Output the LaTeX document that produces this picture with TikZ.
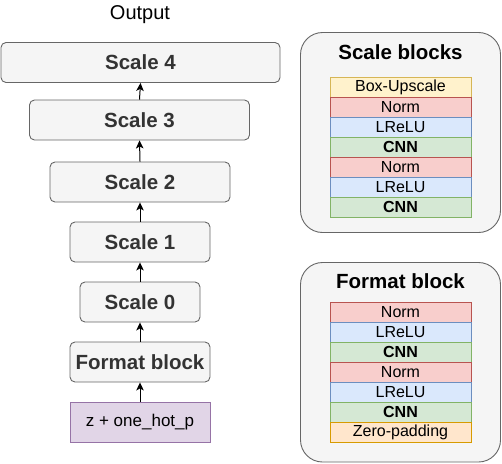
\documentclass[tikz,border=0pt]{standalone}
\usepackage{fontspec}
\setmainfont{Liberation Sans}
\usetikzlibrary{arrows.meta}
\definecolor{grayF}{HTML}{F5F5F5}
\definecolor{grayD}{HTML}{666666}
\definecolor{txtD}{HTML}{333333}
\definecolor{yelF}{HTML}{FFF2CC}
\definecolor{yelD}{HTML}{D6B656}
\definecolor{redF}{HTML}{F8CECC}
\definecolor{redD}{HTML}{B85450}
\definecolor{bluF}{HTML}{DAE8FC}
\definecolor{bluD}{HTML}{6C8EBF}
\definecolor{grnF}{HTML}{D5E8D4}
\definecolor{grnD}{HTML}{82B366}
\definecolor{orgF}{HTML}{FFE6CC}
\definecolor{orgD}{HTML}{D79B00}
\definecolor{purF}{HTML}{E1D5E7}
\definecolor{purD}{HTML}{9673A6}
\begin{document}
\begin{tikzpicture}[x=1pt,y=-1pt]
\useasboundingbox (0,0) rectangle (502,463);
\tikzset{
  scalebox/.style={draw=grayD, fill=grayF, rounded corners=5pt, line width=0.9pt,
    minimum height=40pt, inner sep=0pt, text=txtD,
    font=\fontsize{20.5}{24}\selectfont\bfseries},
  inbox/.style={draw=purD, fill=purF, line width=0.9pt, minimum width=140pt,
    minimum height=40pt, inner sep=0pt, font=\fontsize{17}{20}\selectfont},
  container/.style={draw=grayD, fill=grayF, rounded corners=22pt, line width=0.9pt},
  ctitle/.style={inner sep=0pt, font=\fontsize{20.5}{24}\selectfont\bfseries},
  rowbox/.style={line width=0.9pt, minimum width=141pt, minimum height=20pt,
    inner sep=0pt, font=\fontsize{16}{19}\selectfont},
  yel/.style={rowbox, draw=yelD, fill=yelF},
  red/.style={rowbox, draw=redD, fill=redF},
  blu/.style={rowbox, draw=bluD, fill=bluF},
  grn/.style={rowbox, draw=grnD, fill=grnF, font=\fontsize{16}{19}\selectfont\bfseries},
  org/.style={rowbox, draw=orgD, fill=orgF},
  arr/.style={-{Stealth[length=8pt,width=7.5pt,inset=2pt]}, line width=1pt, black}
}
% left column
\node[inner sep=0pt, font=\fontsize{20}{24}\selectfont] (out) at (140,14.5) {Output};
\node[scalebox, minimum width=279pt] (s4) at (140.5,62.5) {Scale 4};
\node[scalebox, minimum width=220pt] (s3) at (139.5,120) {Scale 3};
\node[scalebox, minimum width=180pt] (s2) at (140,182) {Scale 2};
\node[scalebox, minimum width=140pt] (s1) at (140,242) {Scale 1};
\node[scalebox, minimum width=120pt] (s0) at (140,302) {Scale 0};
\node[scalebox, minimum width=140pt] (fb) at (140,362) {Format block};
\node[inbox] (z) at (140,422) {z + one\_hot\_p};
\draw[arr] (z.north) -- (fb.south);
\draw[arr] (fb.north) -- (s0.south);
\draw[arr] (s0.north) -- (s1.south);
\draw[arr] (s1.north) -- (s2.south);
\draw[arr] (s2.north) -- (s3.south);
\draw[arr] (s3.north) -- (s4.south);
% scale blocks container
\draw[container] (300.5,32.5) rectangle (500.5,232.5);
\node[ctitle] (t1) at (400.5,52) {Scale blocks};
\node[yel] (a1) at (400.5,87) {Box-Upscale};
\node[red] (a2) at (400.5,107) {Norm};
\node[blu] (a3) at (400.5,127) {LReLU};
\node[grn] (a4) at (400.5,147) {CNN};
\node[red] (a5) at (400.5,167) {Norm};
\node[blu] (a6) at (400.5,187) {LReLU};
\node[grn] (a7) at (400.5,207) {CNN};
% format block container
\draw[container] (300.5,262.5) rectangle (500.5,462);
\node[ctitle] (t2) at (400.5,281) {Format block};
\node[red] (b1) at (400.5,312) {Norm};
\node[blu] (b2) at (400.5,332) {LReLU};
\node[grn] (b3) at (400.5,352) {CNN};
\node[red] (b4) at (400.5,372) {Norm};
\node[blu] (b5) at (400.5,392) {LReLU};
\node[grn] (b6) at (400.5,412) {CNN};
\node[org] (b7) at (400.5,432) {Zero-padding};
\end{tikzpicture}
\end{document}
